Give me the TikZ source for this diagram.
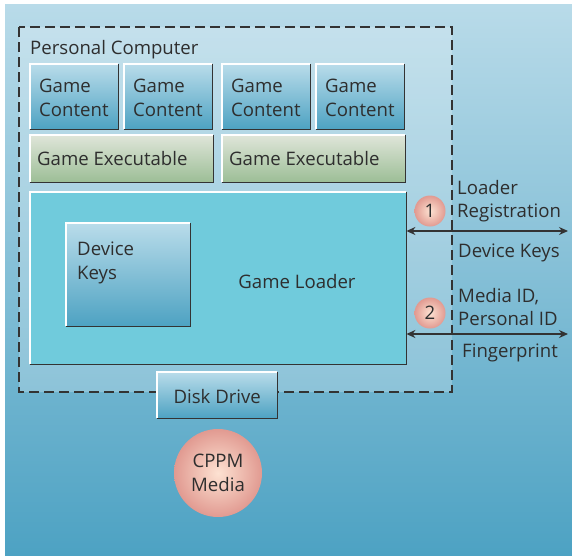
\documentclass[tikz,border=0pt]{standalone}
\usepackage{fontspec}
\setmainfont{Open Sans}
\usetikzlibrary{arrows.meta}
\definecolor{bgtop}{HTML}{B9DBE9}
\definecolor{bgbot}{HTML}{4DA2C3}
\definecolor{bluetop}{HTML}{B9DCEA}
\definecolor{bluebot}{HTML}{4DA2C2}
\definecolor{greentop}{HTML}{DFE5D9}
\definecolor{greenbot}{HTML}{9CBE96}
\definecolor{loaderfill}{HTML}{70CBDC}
\definecolor{pinkin}{HTML}{FDE2D2}
\definecolor{pinkout}{HTML}{E19A91}
\definecolor{ink}{HTML}{2E2E2E}
\definecolor{edge}{HTML}{333333}
\tikzset{
  txt/.style={font=\fontsize{18.6}{23.5}\selectfont, text=ink, inner sep=0pt},
  bluebox/.style={top color=bluetop, bottom color=bluebot, draw=none, inner sep=0pt},
  greenbox/.style={top color=greentop, bottom color=greenbot, draw=none, inner sep=0pt},
  loaderbox/.style={fill=loaderfill, draw=none, inner sep=0pt},
  disc/.style={circle, inner color=pinkin, outer color=pinkout, draw=none, inner sep=0pt},
  link/.style={draw=edge, line width=1.3pt, {Stealth[length=9pt,width=8pt]}-{Stealth[length=9pt,width=8pt]}},
}
% raised edge: light on top and left, dark on bottom and right
\newcommand\bevel[1]{%
  \draw[white, line width=1.2pt] (#1.south west) |- (#1.north east);
  \draw[edge, line width=1.6pt] (#1.south west) -| (#1.north east);
}
\begin{document}
\begin{tikzpicture}[x=1pt, y=-1pt]
\useasboundingbox (0,0) rectangle (572,555);
\fill[white] (0,0) rectangle (572,555);
% backdrop
\shade[top color=bgtop, bottom color=bgbot] (5,4) rectangle (572,555);
% personal computer enclosure
\fill[white, opacity=0.22] (19,27) rectangle (452,392);
\draw[edge, line width=1.3pt, dash pattern=on 10pt off 5pt] (19,27) rectangle (452,392);
\node[txt, anchor=west] (pc) at (30,50) {Personal Computer};

% game content row
\node[bluebox, minimum width=88pt, minimum height=65pt, anchor=north west] (gc1) at (30,64) {};
\node[bluebox, minimum width=88pt, minimum height=65pt, anchor=north west] (gc2) at (124,64) {};
\node[bluebox, minimum width=88pt, minimum height=65pt, anchor=north west] (gc3) at (222,64) {};
\node[bluebox, minimum width=88pt, minimum height=65pt, anchor=north west] (gc4) at (316,64) {};
\foreach \n in {gc1,gc2,gc3,gc4}{
  \bevel{\n}
  \node[txt, align=left, anchor=west] at ([xshift=9pt, yshift=-1pt]\n.west) {Game\\Content};
}

% game executables
\node[greenbox, minimum width=183pt, minimum height=47pt, anchor=north west] (ge1) at (30,135) {};
\node[greenbox, minimum width=183pt, minimum height=47pt, anchor=north west] (ge2) at (222,135) {};
\foreach \n in {ge1,ge2}{
  \bevel{\n}
  \node[txt, anchor=west] at ([xshift=7pt]\n.west) {Game Executable};
}

% game loader with device keys
\node[loaderbox, minimum width=376pt, minimum height=172pt, anchor=north west] (gl) at (30,192) {};
\bevel{gl}
\node[txt] (gltext) at (297,282) {Game Loader};
\node[bluebox, minimum width=124pt, minimum height=103pt, anchor=north west] (dk) at (66,223) {};
\bevel{dk}
\node[txt, align=left, anchor=west] (dktext) at (77,263) {Device\\Keys};

% disk drive and media
\node[bluebox, minimum width=120pt, minimum height=46pt, anchor=north west] (dd) at (157,372) {};
\bevel{dd}
\node[txt] (ddtext) at ([yshift=-1pt]dd.center) {Disk Drive};
\node[disc, minimum size=88pt, txt, align=center] (cppm) at (218,473) {CPPM\\Media};

% exchange with the license server
\coordinate (out1) at (568,231);
\coordinate (out2) at (568,334);
\draw[link] (gl.east |- out1) -- (out1);
\draw[link] (gl.east |- out2) -- (out2);
\node[disc, minimum size=31pt, txt] (s1) at (430,211) {1};
\node[disc, minimum size=31pt, txt] (s2) at (430,313) {2};
\node[txt, align=left, anchor=west] (req1) at (457,201) {Loader\\Registration};
\node[txt, anchor=west] (rsp1) at (458,253) {Device Keys};
\node[txt, align=left, anchor=west] (req2) at (458,307) {Media ID,\\Personal ID};
\node[txt, anchor=west] (rsp2) at (462,353) {Fingerprint};
\end{tikzpicture}
\end{document}
